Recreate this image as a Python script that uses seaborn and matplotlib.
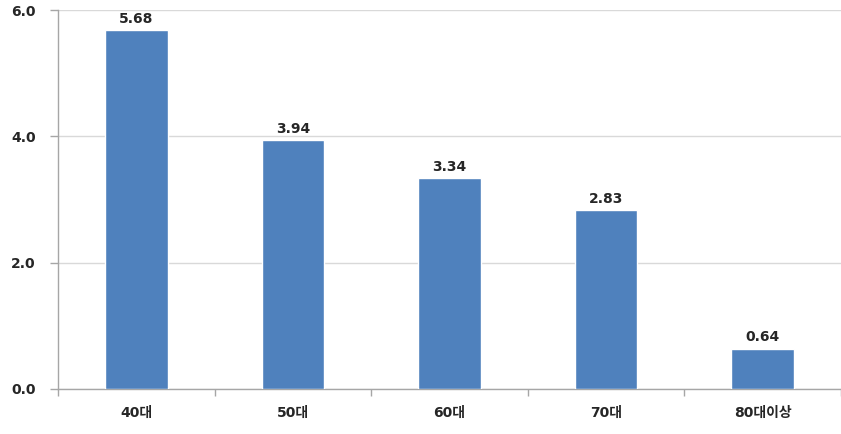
import matplotlib
matplotlib.use("Agg")
import matplotlib.pyplot as plt
import seaborn as sns
import pandas as pd

categories = ["40대", "50대", "60대", "70대", "80대이상"]
values = [5.68, 3.94, 3.34, 2.83, 0.64]
y_ticks = [0.0, 2.0, 4.0, 6.0]

sns.set_style("white")
plt.rcParams["font.family"] = ["DejaVu Sans", "Noto Sans CJK KR"]

df = pd.DataFrame({"age": categories, "value": values})

fig = plt.figure(figsize=(8.41, 4.34), dpi=100)
ax = fig.add_axes([58 / 841, 45 / 434, 1 - 58 / 841, 379 / 434])

sns.barplot(data=df, x="age", y="value", color="#4F81BD", saturation=1,
            width=0.4, ax=ax, zorder=3)

ax.set_ylim(0, 6)
ax.set_xlim(-0.5, 4.45)
ax.set_yticks(y_ticks)
ax.set_yticklabels([f"{t:.1f}" for t in y_ticks], fontsize=10,
                   fontweight="bold", color="#262626")
ax.yaxis.grid(True, color="#D9D9D9", linewidth=1, zorder=0)
ax.xaxis.grid(False)

# Category labels centered under bars, tick marks at category boundaries
ax.set_xticks(range(len(categories)))
ax.set_xticklabels(categories, fontsize=10, fontweight="bold", color="#262626")
ax.tick_params(axis="x", which="major", length=0, pad=12, bottom=True)
ax.set_xticks([i - 0.5 for i in range(len(categories) + 1)], minor=True)
ax.tick_params(axis="x", which="minor", length=5, width=1, color="#A6A6A6",
               direction="out", bottom=True)
ax.tick_params(axis="y", length=6, width=1, color="#A6A6A6", direction="out",
               pad=10, left=True)
ax.set_xlabel("")
ax.set_ylabel("")

for side in ["top", "right"]:
    ax.spines[side].set_visible(False)
for side in ["left", "bottom"]:
    ax.spines[side].set_color("#A6A6A6")
    ax.spines[side].set_linewidth(1)

for i, v in enumerate(values):
    ax.annotate(f"{v:.2f}", xy=(i, v), xytext=(0, 3), textcoords="offset points",
                ha="center", va="bottom", fontsize=10, fontweight="bold",
                color="#262626")

fig.savefig("out.png", dpi=100)
